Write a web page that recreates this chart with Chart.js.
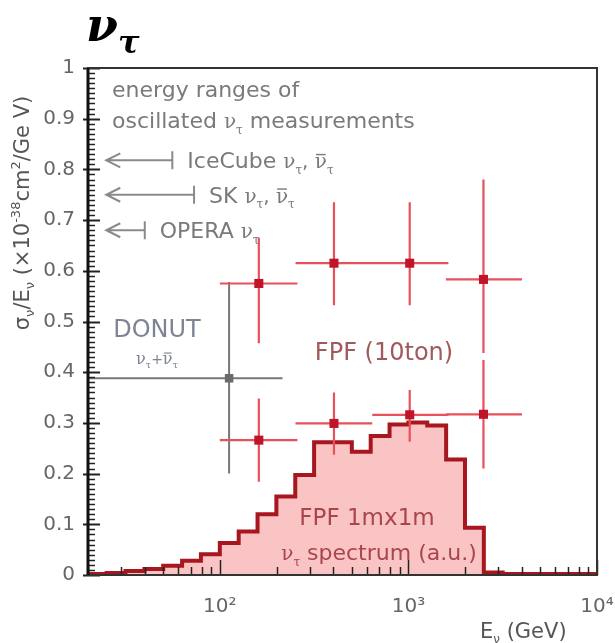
<!DOCTYPE html>
<html>
<head>
<meta charset="utf-8">
<script src="https://cdn.jsdelivr.net/npm/chart.js@4.4.1/dist/chart.umd.min.js"></script>
<style>
  html, body { margin: 0; padding: 0; background: #fff; }
  #wrap { width: 615px; height: 643px; position: relative; }
</style>
</head>
<body>
<div id="wrap"><canvas id="chart"></canvas></div>
<script>
// FPF 1mx1m nu_tau spectrum (a.u.), bin edges in GeV (0.1 decade bins)
const binEdges = [20, 25.1, 31.6, 39.8, 50.1, 63.1, 79.4, 100, 125.9, 158.5, 199.5, 251.2, 316.2, 398.1,
  501.2, 631, 794.3, 1000, 1258.9, 1584.9, 1995.3, 2511.9, 3162.3, 3981.1, 5011.9, 6309.6, 7943.3, 10000];
const binHeights = [0.002, 0.004, 0.008, 0.012, 0.018, 0.028, 0.041, 0.063, 0.086, 0.12, 0.155, 0.197, 0.262,
  0.262, 0.243, 0.274, 0.297, 0.301, 0.295, 0.228, 0.093, 0.005, 0.002, 0.002, 0.002, 0.002, 0.002];

// FPF (10ton) points
const fpfE = [161, 403, 1016, 2500];
const fpfELow = [100, 252, 643, 1580];
const fpfEHigh = [258, 643, 1630, 4000];
const fpfUpper = [0.575, 0.615, 0.615, 0.583];
const fpfUpperLo = [0.457, 0.532, 0.532, 0.438];
const fpfUpperHi = [0.665, 0.735, 0.735, 0.78];
const fpfLower = [0.266, 0.299, 0.316, 0.317];
const fpfLowerLo = [0.184, 0.237, 0.263, 0.21];
const fpfLowerHi = [0.348, 0.36, 0.365, 0.424];

// DONUT
const donutE = [112];
const donutELow = [18];
const donutEHigh = [215];
const donutY = [0.388];
const donutLo = [0.2];
const donutHi = [0.578];

// energy ranges of oscillated nu_tau measurements
const rangeNames = ['IceCube', 'SK', 'OPERA'];
const rangeY = [0.818, 0.75, 0.68];
const rangeMin = [25, 25, 25];
const rangeMax = [56, 73, 40];

const xTicks = [100, 1000, 10000];
const xTickLabels = ['10\u00b2', '10\u00b3', '10\u2074'];
const yTickLabels = ['0', '0.1', '0.2', '0.3', '0.4', '0.5', '0.6', '0.7', '0.8', '0.9', '1'];

const SANS = '"DejaVu Sans", sans-serif';
const SERIF = '"DejaVu Serif", serif';

function histData() {
  const pts = binHeights.map((h, i) => ({ x: binEdges[i], y: h }));
  pts.push({ x: binEdges[binEdges.length - 1], y: binHeights[binHeights.length - 1] });
  return pts;
}

function errorBars(x, xlo, xhi, y, ylo, yhi) {
  const pts = [];
  x.forEach((xv, i) => {
    pts.push({ x: xlo[i], y: y[i] }, { x: xhi[i], y: y[i] }, { x: xhi[i], y: null });
    pts.push({ x: xv, y: ylo[i] }, { x: xv, y: yhi[i] }, { x: xv, y: null });
  });
  return pts;
}

function markers(x, y) {
  return x.map((xv, i) => ({ x: xv, y: y[i] }));
}

// draws text made of pieces (sub/superscripts, nu with bar)
function richText(ctx, x, y, parts, align) {
  let total = 0;
  parts.forEach(p => {
    ctx.font = (p.bold || '') + ' ' + p.size + 'px ' + (p.family || SANS);
    p.w = ctx.measureText(p.t).width;
    total += p.w;
  });
  let cx = align === 'center' ? x - total / 2 : x;
  parts.forEach(p => {
    ctx.font = (p.bold || '') + ' ' + p.size + 'px ' + (p.family || SANS);
    const py = y + (p.dy || 0);
    ctx.fillText(p.t, cx, py);
    if (p.bar) ctx.fillRect(cx + p.w * 0.1, py - p.size * 0.72, p.w * 0.8, Math.max(1, p.size * 0.07));
    cx += p.w;
  });
}

const nu = (s, bar) => ({ t: '\u03bd', size: s, family: SERIF, bar: bar });
const tau = (s) => ({ t: '\u03c4', size: Math.round(s * 0.6), dy: s * 0.28, family: SERIF });
const txt = (t, s) => ({ t: t, size: s });

const rangeLabelParts = [
  [txt('IceCube ', 22), nu(20), tau(20), txt(', ', 20), nu(20, true), tau(20)],
  [txt('SK ', 22), nu(20), tau(20), txt(', ', 20), nu(20, true), tau(20)],
  [txt('OPERA ', 22), nu(20), tau(20)]
];

const frame = {
  id: 'frame',
  afterDatasetsDraw(chart) {
    const { ctx, chartArea: a, scales: { x, y } } = chart;
    ctx.save();
    ctx.strokeStyle = '#222';
    // y ticks, minor every 0.01
    for (let i = 0; i <= 100; i++) {
      const py = Math.round(y.getPixelForValue(i / 100)) + 0.5;
      const major = i % 10 === 0;
      ctx.lineWidth = major ? 2 : 1.5;
      ctx.beginPath();
      ctx.moveTo(a.left - (major ? 5 : 1), py);
      ctx.lineTo(a.left + (major ? 12 : 7), py);
      ctx.stroke();
    }
    // x ticks
    for (let d = 1; d <= 4; d++) {
      for (let m = 1; m <= 9; m++) {
        const v = m * Math.pow(10, d);
        if (v < x.min || v > x.max) continue;
        const px = Math.round(x.getPixelForValue(v)) + 0.5;
        ctx.lineWidth = 1.5;
        ctx.beginPath();
        ctx.moveTo(px, a.bottom);
        ctx.lineTo(px, a.bottom - (m === 1 ? 15 : 8));
        ctx.stroke();
      }
    }
    ctx.lineWidth = 2;
    ctx.strokeStyle = '#333';
    ctx.strokeRect(a.left, a.top, a.right - a.left, a.bottom - a.top);
    ctx.lineWidth = 3;
    ctx.strokeStyle = '#111';
    ctx.beginPath();
    ctx.moveTo(a.left, a.top);
    ctx.lineTo(a.left, a.bottom);
    ctx.stroke();
    ctx.restore();
  },
  afterDraw(chart) {
    const { ctx, chartArea: a, scales: { x, y } } = chart;
    ctx.save();
    ctx.textAlign = 'left';
    ctx.textBaseline = 'alphabetic';

    // title
    ctx.fillStyle = '#000';
    richText(ctx, 86, 41, [
      { t: '\u03bd', size: 46, bold: 'italic bold', family: SERIF },
      { t: '\u03c4', size: 32, bold: 'italic bold', family: SERIF, dy: 12 }
    ], 'left');

    // y axis title
    ctx.fillStyle = '#555';
    ctx.save();
    ctx.translate(29, 213);
    ctx.rotate(-Math.PI / 2);
    richText(ctx, 0, 0, [
      { t: '\u03c3', size: 21 }, { t: '\u03bd', size: 13, dy: 5 },
      { t: '/E', size: 21 }, { t: '\u03bd', size: 13, dy: 5 },
      { t: ' (\u00d710', size: 21 }, { t: '-38', size: 13, dy: -9 },
      { t: 'cm', size: 21 }, { t: '2', size: 13, dy: -9 },
      { t: '/Ge V)', size: 21 }
    ], 'center');
    ctx.restore();

    // x axis title
    richText(ctx, 480, 638, [txt('E', 21), { t: '\u03bd', size: 12, dy: 5 }, txt(' (GeV)', 21)], 'left');

    // energy ranges
    ctx.fillStyle = '#7a7a7a';
    richText(ctx, 112, 97, [txt('energy ranges of', 22)], 'left');
    richText(ctx, 112, 128, [txt('oscillated ', 22), nu(20), tau(20), txt(' measurements', 22)], 'left');

    ctx.strokeStyle = '#8a8a8a';
    ctx.lineWidth = 2;
    rangeNames.forEach((name, i) => {
      const py = y.getPixelForValue(rangeY[i]);
      const x0 = x.getPixelForValue(rangeMin[i]);
      const x1 = x.getPixelForValue(rangeMax[i]);
      ctx.beginPath();
      ctx.moveTo(x0, py); ctx.lineTo(x1, py);
      ctx.moveTo(x0 + 14, py - 7); ctx.lineTo(x0, py); ctx.lineTo(x0 + 14, py + 7);
      ctx.moveTo(x1, py - 9); ctx.lineTo(x1, py + 9);
      ctx.stroke();
      richText(ctx, x1 + 15, py + 8, rangeLabelParts[i], 'left');
    });

    // DONUT label
    ctx.fillStyle = '#7d8494';
    richText(ctx, 157, 337, [txt('DONUT', 24)], 'center');
    richText(ctx, 157, 364, [nu(16), tau(16), txt('+', 14), nu(16, true), tau(16)], 'center');

    // FPF labels
    ctx.fillStyle = '#a05a5e';
    richText(ctx, 384, 360, [txt('FPF (10ton)', 24)], 'center');
    ctx.fillStyle = '#a8464e';
    richText(ctx, 367, 525, [txt('FPF 1mx1m', 23)], 'center');
    richText(ctx, 379, 560, [nu(20), tau(20), txt(' spectrum (a.u.)', 22)], 'center');
    ctx.restore();
  }
};

new Chart(document.getElementById('chart'), {
  type: 'line',
  data: {
    datasets: [
      {
        data: markers(fpfE, fpfUpper).concat(markers(fpfE, fpfLower)),
        showLine: false, pointStyle: 'rect', pointRadius: 6.4,
        pointBackgroundColor: '#c01428', pointBorderWidth: 0
      },
      {
        data: markers(donutE, donutY),
        showLine: false, pointStyle: 'rect', pointRadius: 6,
        pointBackgroundColor: '#6a6a6a', pointBorderWidth: 0
      },
      {
        data: errorBars(fpfE, fpfELow, fpfEHigh, fpfUpper, fpfUpperLo, fpfUpperHi)
          .concat(errorBars(fpfE, fpfELow, fpfEHigh, fpfLower, fpfLowerLo, fpfLowerHi)),
        borderColor: '#e8505c', borderWidth: 2.2, pointRadius: 0, spanGaps: false, tension: 0
      },
      {
        data: errorBars(donutE, donutELow, donutEHigh, donutY, donutLo, donutHi),
        borderColor: '#777', borderWidth: 2, pointRadius: 0, spanGaps: false, tension: 0
      },
      {
        data: histData(),
        stepped: true, fill: 'origin',
        borderColor: '#a8161f', borderWidth: 4,
        backgroundColor: '#fbc4c4', pointRadius: 0
      }
    ]
  },
  options: {
    responsive: true,
    maintainAspectRatio: false,
    animation: false,
    devicePixelRatio: 1,
    layout: { padding: { top: 68, right: 18, left: 0, bottom: 0 } },
    plugins: { legend: { display: false }, tooltip: { enabled: false } },
    scales: {
      x: {
        type: 'logarithmic', min: 20, max: 10000,
        grid: { display: false }, border: { display: false },
        afterBuildTicks: (s) => { s.ticks = xTicks.map(v => ({ value: v })); },
        afterFit: (s) => { s.height = 68; s.paddingLeft = 0; s.paddingRight = 0; },
        ticks: {
          autoSkip: false, maxRotation: 0, padding: 12, color: '#666',
          font: { family: SANS, size: 20 },
          callback: (v) => xTickLabels[xTicks.indexOf(v)]
        }
      },
      y: {
        min: 0, max: 1,
        grid: { display: false }, border: { display: false },
        afterFit: (s) => { s.width = 88; s.paddingTop = 0; s.paddingBottom = 0; },
        ticks: {
          stepSize: 0.1, padding: 5, color: '#666',
          font: { family: SANS, size: 20 },
          callback: (v, i) => yTickLabels[i]
        }
      }
    }
  },
  plugins: [frame]
});
</script>
</body>
</html>
